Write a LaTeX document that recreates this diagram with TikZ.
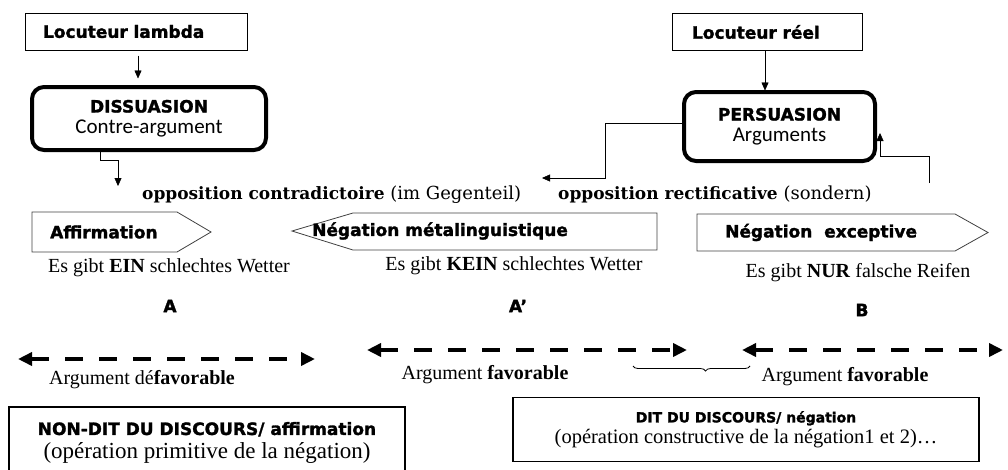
\documentclass[tikz,border=0pt]{standalone}
\usepackage{fontspec}
\setmainfont{Liberation Serif}
\newfontfamily\heavyfont{DejaVu Sans}[BoldFeatures={FakeBold=1.6}]
\newfontfamily\calfont{Carlito}
\newfontfamily\wideserif{DejaVu Serif}
\usetikzlibrary{arrows.meta,positioning,calc,decorations.pathreplacing}
\newcommand{\hv}[1]{{\heavyfont\bfseries #1}}

\begin{document}
\begin{tikzpicture}[
    x=1pt, y=-1pt,
    >={Triangle[length=8pt,width=7pt]},
    heavy/.style={font=\heavyfont\bfseries\fontsize{17}{20}\selectfont, inner sep=0pt},
    serif/.style={font=\fontsize{20}{24}\selectfont, inner sep=0pt},
    speaker/.style={draw, line width=1pt, minimum height=37pt, inner xsep=18pt, align=left, font=\heavyfont\bfseries\fontsize{17}{20}\selectfont},
    attitude/.style={draw, line width=4pt, rounded corners=12pt, align=center, inner sep=2pt, font=\fontsize{17}{21}\selectfont},
    discours/.style={draw, line width=1.3pt, align=center, inner sep=2pt},
    pointer/.style={draw=black!75, line width=0.8pt},
    scale arrow/.style={line width=3.5pt, dash pattern=on 18pt off 16pt, {Triangle[length=14pt,width=13pt]}-{Triangle[length=14pt,width=13pt]}}
]
\useasboundingbox (0,0) rectangle (1008,469);

% speakers and attitudes
\node[speaker, minimum width=222pt, text width=186pt] (loclambda) at (136,31.5) {Locuteur lambda};
\node[attitude, minimum width=234pt, minimum height=63pt] (dissuasion) at (149,118.5)
    {\hv{DISSUASION}\\{\calfont\fontsize{21}{24}\selectfont Contre-argument}};
\node[speaker, minimum width=190pt, text width=150pt, inner xsep=20pt] (locreel) at (767,32) {Locuteur réel};
\node[attitude, minimum width=191pt, minimum height=69pt] (persuasion) at (779.5,126.5)
    {\hv{PERSUASION}\\{\calfont\fontsize{21}{24}\selectfont Arguments}};

\draw[->, shorten <=5pt, shorten >=7pt] ([xshift=2pt]loclambda.south) -- ++(0,35);
\draw[->] ([xshift=-2pt]locreel.south) -- ++(0,39.5);

% oppositions
\node[anchor=base west, inner sep=0pt, font=\wideserif\fontsize{18}{22}\selectfont] (contradict) at (142,199)
    {{\fontsize{17}{22}\selectfont\bfseries opposition contradictoire} (im Gegenteil)};
\node[anchor=base west, inner sep=0pt, font=\wideserif\fontsize{18}{22}\selectfont] (rectif) at (558,199)
    {{\fontsize{17}{22}\selectfont\bfseries opposition rectificative} (sondern)};

\coordinate (contradown) at (118,186);
\coordinate (rectifleft) at (542,178);
\coordinate (rectifright) at (929,183);
\draw[->] ([xshift=-49pt]dissuasion.south) -- ++(0,8) -| (contradown);
\draw[->] ([yshift=3.5pt]persuasion.west) -| ($(rectifleft)+(63,0)$) -- (rectifleft);
\draw[->] (rectifright) |- ([xshift=3pt,yshift=-29.5pt]persuasion.east) -- ([xshift=3pt,yshift=-6.5pt]persuasion.east);

% pointers
\draw[pointer] (32,212) -- (177,212) -- (211,232) -- (177,252) -- (32,252) -- cycle;
\node[heavy, anchor=west] (affirm) at (50,232) {Affirmation};
\draw[pointer] (292,231) -- (353,213) -- (657,213) -- (657,250) -- (353,250) -- cycle;
\node[heavy, anchor=west] (metaling) at (312,231) {Négation métalinguistique};
\draw[pointer] (697,214) -- (955,214) -- (988,232.5) -- (955,251) -- (697,251) -- cycle;
\node[heavy, anchor=west] (except) at (725,232.5) {Négation\ \ exceptive};

% examples
\node[serif] (ein) at (169,268) {Es gibt \textbf{EIN} schlechtes Wetter};
\node[serif] (kein) at (514,266) {Es gibt \textbf{KEIN} schlechtes Wetter};
\node[serif] (nur) at (858,273) {Es gibt \textbf{NUR} falsche Reifen};
\node[heavy] (propa) at (170,306) {A};
\node[heavy] (propaa) at (518,306) {A’};
\node[heavy] (propb) at (862,310) {B};

% argumentative scales
\coordinate (dl1) at (18,359);
\coordinate (dl2) at (315,359);
\coordinate (dm1) at (367,350);
\coordinate (dm2) at (687,350);
\coordinate (dr1) at (742,350);
\coordinate (dr2) at (1003,350);
\draw[scale arrow] (dl1) -- (dl2);
\draw[scale arrow] (dm1) -- (dm2);
\draw[scale arrow] (dr1) -- (dr2);

\node[serif] (defav) at (142,380) {Argument dé\textbf{favorable}};
\node[serif] (fav1) at (485,375) {Argument \textbf{favorable}};
\node[serif] (fav2) at (845,377) {Argument \textbf{favorable}};

\coordinate (br1) at (633,366);
\coordinate (br2) at (750,366);
\draw[line width=0.8pt, decorate, decoration={brace, mirror, amplitude=5pt, aspect=0.62}] (br1) -- (br2);

% discourse
\node[discours, minimum width=396pt, minimum height=72pt, font=\fontsize{17}{24}\selectfont] (nondit) at (207,443)
    {\hv{NON-DIT DU DISCOURS/ affirmation}\\{\fontsize{23}{26}\selectfont (opération primitive de la négation)}};
\node[discours, minimum width=466pt, minimum height=64pt, font=\fontsize{14}{21}\selectfont] (dit) at (746,429.5)
    {\hv{DIT DU DISCOURS/ négation}\\{\fontsize{20.5}{22}\selectfont (opération constructive de la négation1 et 2)…}};
\end{tikzpicture}
\end{document}
